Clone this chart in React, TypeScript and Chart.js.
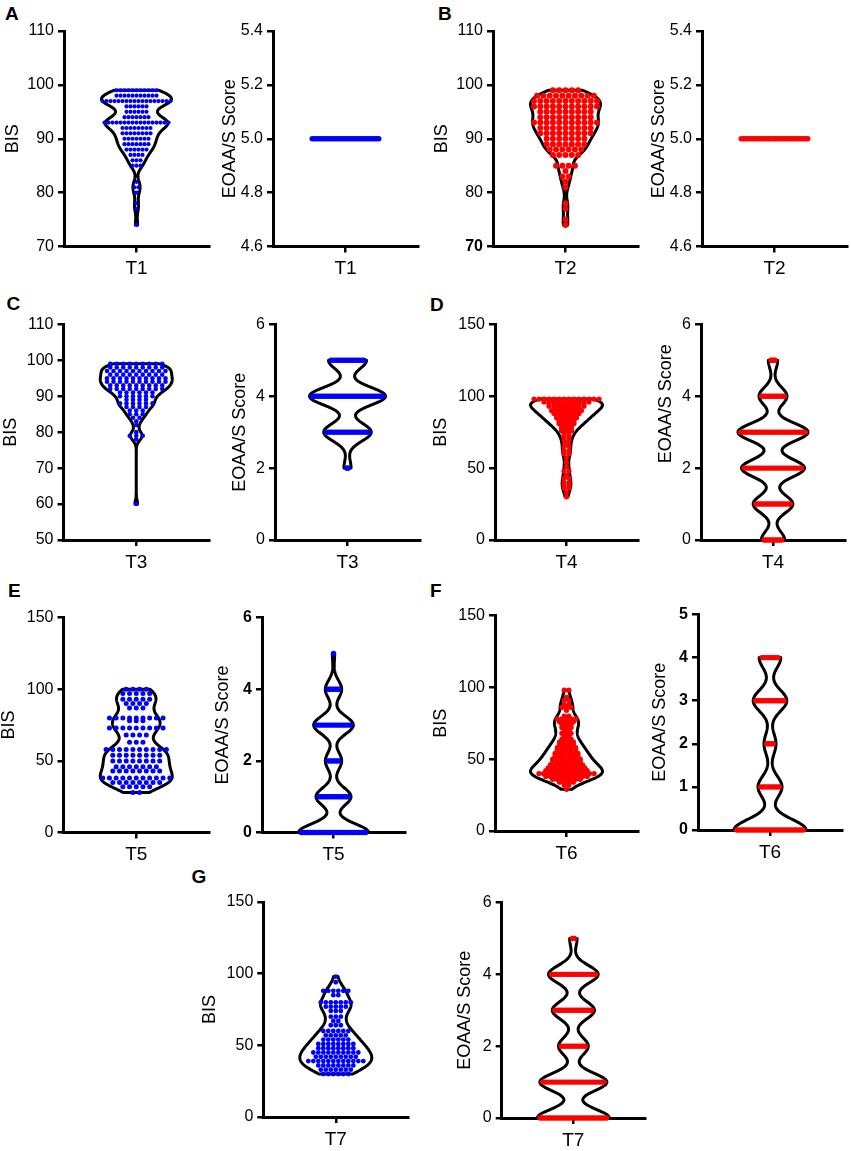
import React, { useEffect, useRef } from 'react';
import { Chart, registerables } from 'chart.js';

Chart.register(...registerables);

const FAMILY = '"Liberation Sans", Arial, Helvetica, sans-serif';
const BLUE = '#0000ff';
const RED = '#ff0000';
const BLACK = '#000000';

// ---------------- data ----------------
const timeLabels = ['T1', 'T2', 'T3', 'T4', 'T5', 'T6', 'T7'];

// BIS values: level -> number of patients at that level
const bisT1Levels = [99, 98, 97, 96, 95, 94, 93, 92, 91, 90, 89, 88, 87, 86, 85, 82, 81, 80, 78, 77, 74];
const bisT1Counts = [11, 11, 18, 6, 6, 7, 17, 8, 8, 7, 7, 6, 4, 3, 3, 1, 2, 1, 1, 1, 1];

const bisT2Levels = [99, 98, 97, 96, 95, 94, 93, 92, 91, 90, 89, 88, 87, 85, 84, 83, 82, 81, 78, 77, 75, 74];
const bisT2Counts = [5, 10, 11, 11, 9, 9, 11, 9, 9, 7, 7, 6, 5, 4, 1, 2, 1, 1, 1, 1, 1, 1];

const bisT3Levels = [99, 98, 97, 96, 95, 94, 93, 92, 91, 90, 89, 88, 87, 86, 85, 84, 83, 82, 80, 79, 78, 60];
const bisT3Counts = [9, 9, 10, 9, 10, 10, 9, 9, 6, 6, 4, 6, 4, 3, 3, 2, 1, 1, 1, 3, 1, 1];

const bisT4Levels = [98, 97, 96, 95, 94, 93, 92, 91, 90, 89, 88, 87, 86, 85, 84, 83, 82, 81, 80, 79, 78, 76, 75, 73, 71, 69, 67, 65, 62, 60, 57, 54, 51, 48, 45, 43, 40, 38, 36, 33, 30];
const bisT4Counts = [14, 6, 10, 8, 5, 8, 5, 6, 7, 4, 6, 5, 4, 5, 3, 4, 3, 4, 3, 2, 3, 3, 2, 2, 2, 2, 1, 2, 2, 2, 1, 1, 1, 2, 1, 2, 2, 2, 2, 1, 1];

const bisT5Levels = [100, 97, 93, 90, 87, 80, 78, 73, 68, 63, 58, 54, 50, 46, 43, 38, 35, 32, 28];
const bisT5Counts = [4, 5, 5, 4, 3, 9, 3, 9, 4, 3, 10, 8, 8, 7, 8, 11, 8, 5, 2];

const bisT6Levels = [98, 93, 91, 88, 86, 84, 80, 78, 76, 74, 72, 70, 68, 66, 64, 62, 60, 58, 56, 54, 52, 50, 48, 46, 44, 42, 40, 38, 36, 34, 32, 29];
const bisT6Counts = [2, 1, 2, 2, 3, 1, 2, 5, 4, 3, 3, 2, 3, 2, 3, 4, 4, 5, 5, 6, 6, 7, 7, 8, 9, 10, 13, 10, 7, 4, 2, 1];

const bisT7Levels = [98, 94, 88, 85, 80, 77, 74, 70, 67, 64, 60, 57, 54, 51, 48, 45, 42, 39, 36, 33, 30];
const bisT7Counts = [1, 1, 6, 2, 7, 5, 3, 3, 2, 3, 6, 5, 6, 8, 8, 10, 9, 12, 8, 7, 6];

// EOAA/S scores: score -> number of patients
const eoaaT1Levels = [5];
const eoaaT1Counts = [30];
const eoaaT2Levels = [5];
const eoaaT2Counts = [30];
const eoaaT3Levels = [2, 3, 4, 5];
const eoaaT3Counts = [3, 20, 32, 16];
const eoaaT4Levels = [0, 1, 2, 3, 4, 5];
const eoaaT4Counts = [10, 17, 27, 30, 12, 4];
const eoaaT5Levels = [0, 1, 2, 3, 4, 5];
const eoaaT5Counts = [30, 15, 7, 17, 7, 1];
const eoaaT6Levels = [0, 1, 2, 3, 4];
const eoaaT6Counts = [30, 10, 5, 14, 9];
const eoaaT7Levels = [0, 1, 2, 3, 4, 5];
const eoaaT7Counts = [29, 27, 12, 17, 20, 3];

// tick labels
const bisTicksNarrow = [70, 80, 90, 100, 110];
const bisTicksC = [50, 60, 70, 80, 90, 100, 110];
const bisTicksWide = [0, 50, 100, 150];
const eoaaTicksNarrow = [4.6, 4.8, 5.0, 5.2, 5.4];
const eoaaTicksSix = [0, 2, 4, 6];
const eoaaTicksFive = [0, 1, 2, 3, 4, 5];

// ---------------- layout / style ----------------
const TITLE_SIZE = 18;
const TICK_SIZE = 16;
const XLABEL_SIZE = 19;
const TOP_PAD = 14;
const RIGHT_PAD = 4;
const BOTTOM_SPACE = 40;

type Panel = {
  key: string;
  left: number;
  right: number;
  top: number;
  bottom: number;
  title: string;
  titleGap: number;
  titleAlign?: 'center' | 'end';
  ticks: number[];
  decimals: number;
  bold?: number[] | 'all';
  xLabel: string;
  levels: number[];
  counts: number[];
  color: string;
  bw: number;
  maxHalf: number;
  dotR: number;
  pitch: number | null;
};

const EO = 'EOAA/S Score';

const panels: Panel[] = [
  { key: 'A1', left: 64, right: 209, top: 31, bottom: 246.5, title: 'BIS', titleGap: 51, ticks: bisTicksNarrow, decimals: 0, xLabel: timeLabels[0], levels: bisT1Levels, counts: bisT1Counts, color: BLUE, bw: 1.0, maxHalf: 35, dotR: 2.1, pitch: 4.0 },
  { key: 'A2', left: 273, right: 418, top: 31, bottom: 246.5, title: EO, titleGap: 43, ticks: eoaaTicksNarrow, decimals: 1, xLabel: timeLabels[0], levels: eoaaT1Levels, counts: eoaaT1Counts, color: BLUE, bw: 0.25, maxHalf: 36, dotR: 2.7, pitch: null },
  { key: 'B1', left: 493, right: 638, top: 31, bottom: 246.5, title: 'BIS', titleGap: 51, ticks: bisTicksNarrow, decimals: 0, bold: [70], xLabel: timeLabels[1], levels: bisT2Levels, counts: bisT2Counts, color: RED, bw: 1.1, maxHalf: 35, dotR: 3.0, pitch: 6.3 },
  { key: 'B2', left: 702, right: 847, top: 31, bottom: 246.5, title: EO, titleGap: 43, ticks: eoaaTicksNarrow, decimals: 1, xLabel: timeLabels[1], levels: eoaaT2Levels, counts: eoaaT2Counts, color: RED, bw: 0.25, maxHalf: 36, dotR: 2.7, pitch: null },

  { key: 'C1', left: 63.5, right: 209, top: 324.3, bottom: 540, title: 'BIS', titleGap: 52.5, ticks: bisTicksC, decimals: 0, xLabel: timeLabels[2], levels: bisT3Levels, counts: bisT3Counts, color: BLUE, bw: 1.1, maxHalf: 36, dotR: 2.3, pitch: 6.5 },
  { key: 'C2', left: 275, right: 420, top: 324.3, bottom: 540, title: EO, titleGap: 34.5, ticks: eoaaTicksSix, decimals: 0, xLabel: timeLabels[2], levels: eoaaT3Levels, counts: eoaaT3Counts, color: BLUE, bw: 0.25, maxHalf: 38, dotR: 2.7, pitch: null },
  { key: 'D1', left: 495, right: 638, top: 324.3, bottom: 540, title: 'BIS', titleGap: 54, ticks: bisTicksWide, decimals: 0, xLabel: timeLabels[3], levels: bisT4Levels, counts: bisT4Counts, color: RED, bw: 3.5, maxHalf: 36, dotR: 2.6, pitch: 5 },
  { key: 'D2', left: 701, right: 845, top: 324.3, bottom: 540, title: EO + '    ', titleGap: 34.5, titleAlign: 'end', ticks: eoaaTicksSix, decimals: 0, xLabel: timeLabels[3], levels: eoaaT4Levels, counts: eoaaT4Counts, color: RED, bw: 0.25, maxHalf: 35, dotR: 2.7, pitch: null },

  { key: 'E1', left: 63.5, right: 209, top: 617.7, bottom: 832.5, title: 'BIS', titleGap: 54, ticks: bisTicksWide, decimals: 0, xLabel: timeLabels[4], levels: bisT5Levels, counts: bisT5Counts, color: BLUE, bw: 5, maxHalf: 36, dotR: 2.5, pitch: 6.7 },
  { key: 'E2', left: 262, right: 405, top: 617.7, bottom: 832.5, title: EO, titleGap: 39, ticks: eoaaTicksSix, decimals: 0, bold: 'all', xLabel: timeLabels[4], levels: eoaaT5Levels, counts: eoaaT5Counts, color: BLUE, bw: 0.25, maxHalf: 35, dotR: 2.7, pitch: null },
  { key: 'F1', left: 495, right: 638, top: 615.5, bottom: 831, title: 'BIS', titleGap: 54, ticks: bisTicksWide, decimals: 0, xLabel: timeLabels[5], levels: bisT6Levels, counts: bisT6Counts, color: RED, bw: 4, maxHalf: 36, dotR: 2.6, pitch: 4.6 },
  { key: 'F2', left: 698, right: 842, top: 614.5, bottom: 830, title: EO, titleGap: 37.5, ticks: eoaaTicksFive, decimals: 0, bold: 'all', xLabel: timeLabels[5], levels: eoaaT6Levels, counts: eoaaT6Counts, color: RED, bw: 0.25, maxHalf: 36, dotR: 2.7, pitch: null },

  { key: 'G1', left: 263.3, right: 408.3, top: 902, bottom: 1117, title: 'BIS', titleGap: 52.5, ticks: bisTicksWide, decimals: 0, xLabel: timeLabels[6], levels: bisT7Levels, counts: bisT7Counts, color: BLUE, bw: 4.5, maxHalf: 36, dotR: 2.4, pitch: 5 },
  { key: 'G2', left: 501.7, right: 645, top: 902.5, bottom: 1118, title: EO, titleGap: 36.5, ticks: eoaaTicksSix, decimals: 0, xLabel: timeLabels[6], levels: eoaaT7Levels, counts: eoaaT7Counts, color: RED, bw: 0.25, maxHalf: 36, dotR: 2.7, pitch: null },
];

const letters = [
  { text: 'A', left: 5, baseline: 20 },
  { text: 'B', left: 438, baseline: 20 },
  { text: 'C', left: 6.5, baseline: 310 },
  { text: 'D', left: 430, baseline: 311 },
  { text: 'E', left: 8, baseline: 597.5 },
  { text: 'F', left: 430, baseline: 597.5 },
  { text: 'G', left: 191.5, baseline: 883 },
];
const LETTER_SIZE = 19;

function ViolinPanel({ p }: { p: Panel }) {
  const ref = useRef<HTMLCanvasElement | null>(null);
  const leftSpace0 = p.titleGap + TITLE_SIZE / 2;
  const canvasLeft = Math.floor(p.left - leftSpace0);
  const leftSpace = p.left - canvasLeft;
  const canvasTop = Math.floor(p.top - TOP_PAD);
  const topPad = p.top - canvasTop;
  const plotW = p.right - p.left;
  const plotH = p.bottom - p.top;
  const cw = Math.ceil(leftSpace + plotW + RIGHT_PAD);
  const ch = Math.ceil(topPad + plotH + BOTTOM_SPACE);
  const rightPad = cw - leftSpace - plotW;
  const bottomSpace = ch - topPad - plotH;

  useEffect(() => {
    const canvas = ref.current;
    if (!canvas) return;
    const isBold = (v: number) =>
      p.bold === 'all' || (Array.isArray(p.bold) && p.bold.some((b) => Math.abs(b - v) < 1e-9));
    const chart = new Chart(canvas, {
      type: 'scatter',
      data: {
        datasets: [
          {
            data: [],
            pointRadius: p.dotR,
            pointHoverRadius: p.dotR,
            pointBackgroundColor: p.color,
            pointBorderColor: p.color,
            pointBorderWidth: 0,
            order: 0,
            clip: false as any,
          },
          {
            data: [],
            showLine: true,
            pointRadius: 0,
            pointHoverRadius: 0,
            borderColor: BLACK,
            borderWidth: 3,
            tension: 0.0001,
            borderJoinStyle: 'round',
            borderCapStyle: 'round',
            fill: false,
            order: 1,
            clip: false as any,
          },
        ],
      } as any,
      options: {
        responsive: false,
        maintainAspectRatio: false,
        animation: false,
        events: [],
        layout: { padding: { left: 0, top: topPad, right: rightPad, bottom: 0 } },
        plugins: { legend: { display: false }, tooltip: { enabled: false } },
        scales: {
          x: {
            type: 'linear',
            min: -1,
            max: 1,
            afterBuildTicks: (s: any) => {
              s.ticks = [{ value: 0 }];
            },
            afterFit: (s: any) => {
              s.height = bottomSpace;
            },
            ticks: {
              autoSkip: false,
              maxRotation: 0,
              padding: 5,
              color: BLACK,
              font: { family: FAMILY, size: XLABEL_SIZE },
              callback: () => p.xLabel,
            },
            grid: { drawOnChartArea: false, drawTicks: true, tickLength: 6, lineWidth: 2.5, color: BLACK },
            border: { display: true, color: BLACK, width: 3 },
          },
          y: {
            type: 'linear',
            min: p.ticks[0],
            max: p.ticks[p.ticks.length - 1],
            afterBuildTicks: (s: any) => {
              s.ticks = p.ticks.map((v) => ({ value: v }));
            },
            afterFit: (s: any) => {
              s.width = leftSpace;
            },
            ticks: {
              autoSkip: false,
              padding: 4,
              color: BLACK,
              font: (ctx: any) => ({
                family: FAMILY,
                size: TICK_SIZE,
                weight: ctx && ctx.tick && isBold(ctx.tick.value) ? 'bold' : 'normal',
              }),
              callback: (v: any) => Number(v).toFixed(p.decimals),
            },
            grid: { drawOnChartArea: false, drawTicks: true, tickLength: 6, lineWidth: 2.5, color: BLACK },
            border: { display: true, color: BLACK, width: 3 },
            title: {
              display: true,
              text: p.title,
              color: BLACK,
              align: p.titleAlign || 'center',
              padding: 0,
              font: { family: FAMILY, size: TITLE_SIZE, lineHeight: 1 },
            },
          },
        },
      } as any,
    });

    // violin outline (Gaussian KDE of the values, truncated at min/max) and dot layout
    const xs = chart.scales.x;
    const unit = xs.getPixelForValue(1) - xs.getPixelForValue(0); // px per x-unit
    const lo = Math.min(...p.levels);
    const hi = Math.max(...p.levels);
    const dens = (y: number) =>
      p.levels.reduce((s, l, i) => s + p.counts[i] * Math.exp(-0.5 * ((y - l) / p.bw) ** 2), 0);
    let outline: { x: number; y: number }[] = [];
    let halfAt = (_y: number) => p.maxHalf / unit;
    if (hi > lo) {
      const steps = 180;
      const ys: number[] = [];
      for (let k = 0; k <= steps; k++) ys.push(lo + ((hi - lo) * k) / steps);
      const ds = ys.map(dens);
      const dMax = Math.max(...ds);
      const sc = p.maxHalf / unit / dMax;
      halfAt = (y: number) => dens(y) * sc;
      const rightSide = ys.map((y, k) => ({ x: ds[k] * sc, y }));
      const leftSide = ys.map((y, k) => ({ x: -ds[k] * sc, y })).reverse();
      outline = [...rightSide, ...leftSide, rightSide[0]];
    }
    const r = p.dotR / unit;
    const dots: { x: number; y: number }[] = [];
    p.levels.forEach((lvl, i) => {
      const n = p.counts[i];
      let step: number;
      if (p.pitch == null) {
        const w = Math.max(halfAt(lvl) - r, 0);
        step = n > 1 ? (2 * w) / (n - 1) : 0;
      } else {
        step = p.pitch / unit;
      }
      for (let j = 0; j < n; j++) dots.push({ x: (j - (n - 1) / 2) * step, y: lvl });
    });
    (chart.data.datasets[0] as any).data = dots;
    (chart.data.datasets[1] as any).data = outline;
    chart.update();

    return () => {
      chart.destroy();
    };
  }, []);

  return (
    <canvas
      ref={ref}
      width={cw}
      height={ch}
      style={{ position: 'absolute', left: canvasLeft, top: canvasTop, width: cw, height: ch }}
    />
  );
}

export default function App() {
  return (
    <div
      style={{
        position: 'absolute',
        left: 0,
        top: 0,
        width: 851,
        height: 1151,
        background: '#ffffff',
        overflow: 'hidden',
      }}
    >
      {letters.map((l) => (
        <div
          key={l.text}
          style={{
            position: 'absolute',
            left: l.left,
            top: l.baseline - 0.8465 * LETTER_SIZE,
            fontFamily: FAMILY,
            fontWeight: 'bold',
            fontSize: LETTER_SIZE,
            lineHeight: LETTER_SIZE + 'px',
            color: BLACK,
          }}
        >
          {l.text}
        </div>
      ))}
      {panels.map((p) => (
        <ViolinPanel key={p.key} p={p} />
      ))}
    </div>
  );
}
